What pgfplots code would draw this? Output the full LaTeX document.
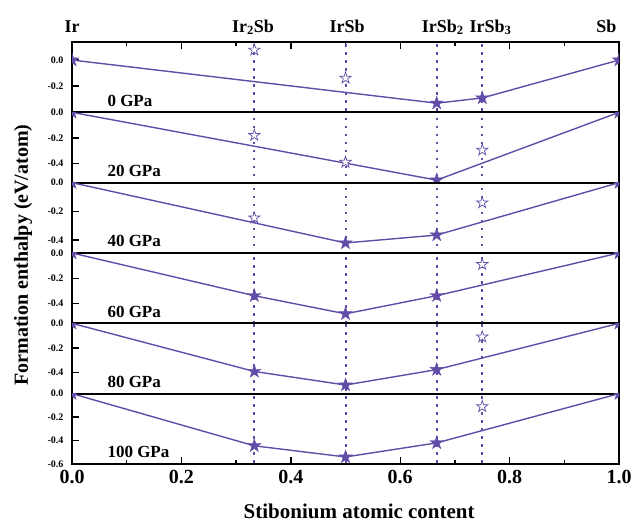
\documentclass[border=0pt]{standalone}
\usepackage{fontspec}
\setmainfont{Liberation Serif}
\usepackage{pgfplots}
\pgfplotsset{compat=1.18}
\usepgfplotslibrary{groupplots}
\definecolor{pur}{RGB}{98,76,168}

\pgfdeclareplotmark{fivestar}{%
  \pgfpathmoveto{\pgfpoint{0pt}{\pgfplotmarksize}}%
  \pgfpathlineto{\pgfpoint{-0.2245*\pgfplotmarksize}{0.309*\pgfplotmarksize}}%
  \pgfpathlineto{\pgfpoint{-0.951*\pgfplotmarksize}{0.309*\pgfplotmarksize}}%
  \pgfpathlineto{\pgfpoint{-0.3633*\pgfplotmarksize}{-0.118*\pgfplotmarksize}}%
  \pgfpathlineto{\pgfpoint{-0.588*\pgfplotmarksize}{-0.809*\pgfplotmarksize}}%
  \pgfpathlineto{\pgfpoint{0pt}{-0.382*\pgfplotmarksize}}%
  \pgfpathlineto{\pgfpoint{0.588*\pgfplotmarksize}{-0.809*\pgfplotmarksize}}%
  \pgfpathlineto{\pgfpoint{0.3633*\pgfplotmarksize}{-0.118*\pgfplotmarksize}}%
  \pgfpathlineto{\pgfpoint{0.951*\pgfplotmarksize}{0.309*\pgfplotmarksize}}%
  \pgfpathlineto{\pgfpoint{0.2245*\pgfplotmarksize}{0.309*\pgfplotmarksize}}%
  \pgfpathclose
  \pgfusepathqfillstroke
}

\pgfplotsset{
  hull/.style={pur, line width=1.4pt, mark=fivestar, mark size=7pt,
    mark options={solid, fill=pur, draw=pur, line width=0.4pt}},
  meta/.style={only marks, mark=fivestar, mark size=6pt,
    mark options={solid, fill=white, draw=pur, line width=0.7pt}},
  vdot/.style={pur, line width=2pt, dash pattern=on 2.5pt off 5.5pt, forget plot},
}

\newcommand{\vlines}{%
  \addplot[vdot] coordinates {(0.3333,-1) (0.3333,1)};
  \addplot[vdot] coordinates {(0.5,-1) (0.5,1)};
  \addplot[vdot] coordinates {(0.6667,-1) (0.6667,1)};
  \addplot[vdot] coordinates {(0.75,-1) (0.75,1)};
}
\newcommand{\plab}[1]{\node[anchor=base west, yshift=6pt, font=\fontsize{17}{17}\selectfont\bfseries] at (rel axis cs:0.0585,0) {#1};}

\begin{document}
\begin{tikzpicture}
\begin{groupplot}[
  group style={group name=G, group size=1 by 6, vertical sep=0pt},
  scale only axis, width=547pt, height=70.33pt,
  xmin=0, xmax=1,
  clip mode=individual,
  clip marker paths=true,
  axis line style={line width=2pt},
  every tick/.style={black, line width=1.4pt},
  major tick length=6.5pt, minor tick length=3.5pt,
  ytick pos=left,
  xtick=\empty,
  yticklabel style={font=\fontsize{10}{10}\selectfont\bfseries, xshift=-5pt, inner ysep=0pt,
    /pgf/number format/.cd, fixed, fixed zerofill, precision=1, assume math mode=true},
]
% 0 GPa
\nextgroupplot[ymin=-0.4, ymax=0.138, ytick={-0.2,0},
  xtick={0,0.2,0.4,0.6,0.8,1}, minor x tick num=1, xtick pos=right, xticklabels={}]
\vlines
\addplot[hull] coordinates {(0,0) (0.6667,-0.33) (0.75,-0.29) (1,0)};
\addplot[meta] coordinates {(0.3333,0.077) (0.5,-0.138)};
\plab{0 GPa}
\begin{scope}[font=\fontsize{18}{18}\selectfont\bfseries]
\node[anchor=base, yshift=10pt] at (rel axis cs:0,1) {Ir};
\node[anchor=base, yshift=10pt] at (rel axis cs:0.331,1) {Ir\textsubscript{2}Sb};
\node[anchor=base, yshift=10pt] at (rel axis cs:0.503,1) {IrSb};
\node[anchor=base, yshift=10pt] at (rel axis cs:0.678,1) {IrSb\textsubscript{2}};
\node[anchor=base, yshift=10pt] at (rel axis cs:0.765,1) {IrSb\textsubscript{3}};
\node[anchor=base east, yshift=10pt, xshift=1pt] at (rel axis cs:1,1) {Sb};
\end{scope}
% 20 GPa
\nextgroupplot[ymin=-0.55, ymax=0, ytick={-0.4,-0.2,0}]
\vlines
\addplot[hull] coordinates {(0,0) (0.6667,-0.53) (1,0)};
\addplot[meta] coordinates {(0.3333,-0.18) (0.5,-0.39) (0.75,-0.295)};
\plab{20 GPa}
% 40 GPa
\nextgroupplot[ymin=-0.49, ymax=0, ytick={-0.4,-0.2,0}]
\vlines
\addplot[hull] coordinates {(0,0) (0.5,-0.42) (0.6667,-0.365) (1,0)};
\addplot[meta] coordinates {(0.3333,-0.245) (0.75,-0.14)};
\plab{40 GPa}
% 60 GPa
\nextgroupplot[ymin=-0.555, ymax=0, ytick={-0.4,-0.2,0}]
\vlines
\addplot[hull] coordinates {(0,0) (0.3333,-0.337) (0.5,-0.48) (0.6667,-0.337) (1,0)};
\addplot[meta] coordinates {(0.75,-0.09)};
\plab{60 GPa}
% 80 GPa
\nextgroupplot[ymin=-0.57, ymax=0, ytick={-0.4,-0.2,0}]
\vlines
\addplot[hull] coordinates {(0,0) (0.3333,-0.39) (0.5,-0.50) (0.6667,-0.375) (1,0)};
\addplot[meta] coordinates {(0.75,-0.11)};
\plab{80 GPa}
% 100 GPa
\nextgroupplot[ymin=-0.6, ymax=0, ytick={-0.6,-0.4,-0.2,0},
  xtick={0,0.2,0.4,0.6,0.8,1}, minor x tick num=1, xtick pos=left,
  xticklabel style={font=\fontsize{20}{20}\selectfont\bfseries, inner ysep=0pt, yshift=-6pt,
    /pgf/number format/.cd, fixed, fixed zerofill, precision=1, assume math mode=true}]
\vlines
\addplot[hull] coordinates {(0,0) (0.3333,-0.445) (0.5,-0.54) (0.6667,-0.42) (1,0)};
\addplot[meta] coordinates {(0.75,-0.11)};
\plab{100 GPa}
\node[anchor=base, yshift=-55pt, font=\fontsize{21}{21}\selectfont\bfseries] at (rel axis cs:0.525,0) {Stibonium atomic content};
\end{groupplot}
\node[rotate=90, font=\fontsize{20}{20}\selectfont\bfseries] at ([shift={(-49pt,-213pt)}]G c1r1.north west) {Formation enthalpy (eV/atom)};
\pgfresetboundingbox
\path[use as bounding box] ([shift={(-72pt,42pt)}]G c1r1.north west) rectangle ++(634pt,-523pt);
\end{tikzpicture}
\end{document}
